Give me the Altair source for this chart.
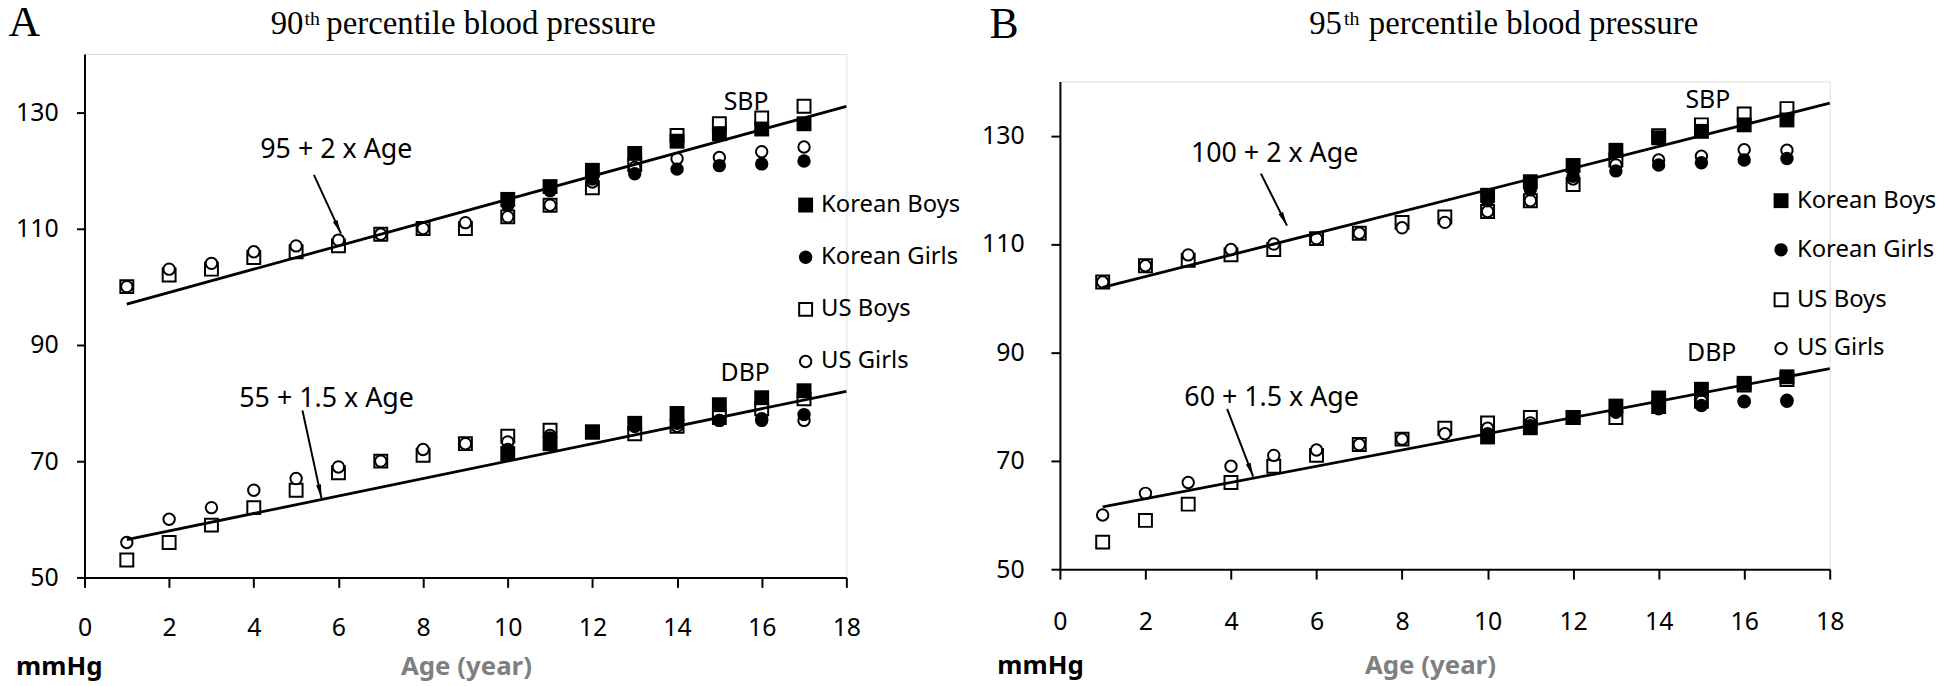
import math
import altair as alt
import pandas as pd

# ---------------- data ----------------
ages = list(range(1, 18))
korean_ages = list(range(10, 18))
x_ticks = list(range(0, 19, 2))
y_ticks = [50, 70, 90, 110, 130]
legend_labels = ["Korean Boys", "Korean Girls", "US Boys", "US Girls"]

# Panel A : 90th percentile
p90_us_boys_sbp = [100, 102, 103, 105, 106, 107, 109, 110, 110, 112, 114, 117, 121, 126, 128, 129, 131]
p90_us_girls_sbp = [100, 103, 104, 106, 107, 108, 109, 110, 111, 112, 114, 118, 120.5, 122, 122.2, 123.2, 124]
p90_kr_boys_sbp = [115, 117.2, 120, 122.9, 125, 126.3, 127.1, 128]
p90_kr_girls_sbp = [114, 116.5, 118.5, 119.4, 120.2, 120.8, 121.1, 121.6]
p90_us_boys_dbp = [53, 56, 59, 62, 65, 68, 70, 71, 73, 74.3, 75.3, 75, 74.7, 76, 77.5, 79, 80.7]
p90_us_girls_dbp = [56, 60, 62, 65, 67, 69, 70, 72, 73, 73.3, 74.4, 75, 76, 76, 77, 77, 77]
p90_kr_boys_dbp = [71.3, 73, 75, 76.5, 78.2, 79.7, 80.9, 82.1]
p90_kr_girls_dbp = [72, 74, 75, 76, 76.5, 77, 77.3, 78]

# Panel B : 95th percentile
p95_us_boys_sbp = [103, 106, 107, 108, 109, 111, 112, 114, 115, 116, 118, 121, 125.5, 130, 132, 134, 135]
p95_us_girls_sbp = [103, 106, 108, 109, 110, 111, 112, 113, 114, 116, 118, 122, 124.6, 125.5, 126.2, 127.4, 127.3]
p95_kr_boys_sbp = [119, 121.5, 124.5, 127.3, 129.6, 130.8, 132, 132.9]
p95_kr_girls_sbp = [118, 120, 122.5, 123.5, 124.6, 125, 125.5, 125.8]
p95_us_boys_dbp = [55, 59, 62, 66, 69, 71, 73, 74, 76, 77, 78, 78, 78, 80, 81, 84, 85]
p95_us_girls_dbp = [60, 64, 66, 69, 71, 72, 73, 74, 75, 76, 77, 78, 79, 80, 81, 81, 81]
p95_kr_boys_dbp = [74.4, 76.1, 78, 80.1, 81.6, 83.2, 84.3, 85.5]
p95_kr_girls_dbp = [75, 76.5, 78, 79, 79.6, 80.2, 80.9, 81.2]

# reference lines (end points at age 1 and 18)
line_ages = [1, 18]
p90_sbp_line = [97, 131]
p90_dbp_line = [56.5, 82]
p95_sbp_line = [102, 136]
p95_dbp_line = [61.5, 87]

# annotation texts (age, value of baseline)
p90_formulas = ["95 + 2 x Age", "55 + 1.5 x Age"]
p90_formula_age = [5.95, 5.72]
p90_formula_bp = [122.1, 79.3]
p95_formulas = ["100 + 2 x Age", "60 + 1.5 x Age"]
p95_formula_age = [5.02, 4.95]
p95_formula_bp = [125.2, 80.1]

bp_labels = ["SBP", "DBP"]
p90_label_age = [15.63, 15.61]
p90_label_bp = [130.3, 83.8]
p95_label_age = [15.15, 15.24]
p95_label_bp = [135.1, 88.5]

# arrows: start -> tip
p90_arrow_x0 = [5.42, 5.15]
p90_arrow_y0 = [119.2, 78.7]
p90_arrow_x1 = [6.06, 5.6]
p90_arrow_y1 = [109.1, 63.6]
p95_arrow_x0 = [4.70, 3.91]
p95_arrow_y0 = [123.0, 79.6]
p95_arrow_x1 = [5.31, 4.52]
p95_arrow_y1 = [113.4, 67.1]

SANS = "Noto Sans"
SERIF = "Liberation Serif"
X_DOMAIN = [0, 18]
Y_DOMAIN = [50, 140]


def panel(letter, pct, cfg):
    W, H = cfg["W"], cfg["H"]
    xs = alt.Scale(domain=X_DOMAIN, nice=False, zero=False)
    ys = alt.Scale(domain=Y_DOMAIN, nice=False, zero=False)
    xaxis = alt.Axis(values=x_ticks, title=None, grid=False, tickSize=10, tickWidth=2,
                     domainWidth=2, domainColor="black", tickColor="black",
                     labelFont=SANS, labelFontSize=25, labelColor="black",
                     labelPadding=cfg["xpad"], labelFlush=False, labelOverlap=False)
    yaxis = alt.Axis(values=y_ticks, title=None, grid=False, tickSize=cfg["ytick"], tickWidth=2,
                     domainWidth=2, domainColor="black", tickColor="black",
                     labelFont=SANS, labelFontSize=25, labelColor="black",
                     labelPadding=cfg["ypad"], labelOverlap=False)

    def X(f="age"):
        return alt.X(f"{f}:Q", scale=xs, axis=xaxis)

    def Y(f="bp"):
        return alt.Y(f"{f}:Q", scale=ys, axis=yaxis)

    def pts(a, v):
        return pd.DataFrame({"age": a, "bp": v})

    us_b = pd.concat([pts(ages, cfg["usb_s"]), pts(ages, cfg["usb_d"])])
    us_g = pd.concat([pts(ages, cfg["usg_s"]), pts(ages, cfg["usg_d"])])
    kr_b = pd.concat([pts(korean_ages, cfg["krb_s"]), pts(korean_ages, cfg["krb_d"])])
    kr_g = pd.concat([pts(korean_ages, cfg["krg_s"]), pts(korean_ages, cfg["krg_d"])])

    layers = []
    layers.append(alt.Chart(us_b).mark_point(shape="square", filled=True, fill="white", stroke="black",
                                             strokeWidth=2, size=169, opacity=1).encode(x=X(), y=Y()))
    layers.append(alt.Chart(us_g).mark_point(shape="circle", filled=True, fill="white", stroke="black",
                                             strokeWidth=2, size=132, opacity=1).encode(x=X(), y=Y()))
    layers.append(alt.Chart(kr_b).mark_point(shape="square", filled=True, color="black",
                                             size=225, opacity=1).encode(x=X(), y=Y()))
    layers.append(alt.Chart(kr_g).mark_point(shape="circle", filled=True, color="black",
                                             size=182, opacity=1).encode(x=X(), y=Y()))

    lines = pd.DataFrame({
        "age": line_ages + line_ages,
        "bp": cfg["sbp_line"] + cfg["dbp_line"],
        "part": ["SBP", "SBP", "DBP", "DBP"],
    })
    layers.append(alt.Chart(lines).mark_line(color="black", strokeWidth=2.8).encode(
        x=X(), y=Y(), detail="part:N"))

    formulas = pd.DataFrame({"age": cfg["f_age"], "bp": cfg["f_bp"], "t": cfg["f_text"]})
    layers.append(alt.Chart(formulas).mark_text(font=SANS, fontSize=27, align="center",
                                                baseline="alphabetic", color="black").encode(
        x=X(), y=Y(), text="t:N"))
    labels = pd.DataFrame({"age": cfg["l_age"], "bp": cfg["l_bp"], "t": bp_labels})
    layers.append(alt.Chart(labels).mark_text(font=SANS, fontSize=25, align="center",
                                              baseline="alphabetic", color="black").encode(
        x=X(), y=Y(), text="t:N"))

    # arrows
    pxx, pxy = W / (X_DOMAIN[1] - X_DOMAIN[0]), H / (Y_DOMAIN[1] - Y_DOMAIN[0])
    ang = []
    for x0, y0, x1, y1 in zip(cfg["ax0"], cfg["ay0"], cfg["ax1"], cfg["ay1"]):
        dx = (x1 - x0) * pxx
        dy = -(y1 - y0) * pxy
        ang.append(math.degrees(math.atan2(dx, -dy)) % 360)
    arrows = pd.DataFrame({"age": cfg["ax0"], "bp": cfg["ay0"], "age2": cfg["ax1"],
                           "bp2": cfg["ay1"], "ang": ang})
    layers.append(alt.Chart(arrows).mark_rule(color="black", strokeWidth=2).encode(
        x=X(), y=Y(), x2="age2:Q", y2="bp2:Q"))
    layers.append(alt.Chart(arrows).mark_point(shape="M0,0L-0.36,2L0.36,2Z", filled=True,
                                               color="black", size=196, opacity=1).encode(
        x=X("age2"), y=Y("bp2"), angle=alt.Angle("ang:Q", scale=None)))

    one = pd.DataFrame({"k": [0]})

    def txt(text, x, y, size, font=SANS, weight="normal", color="black", align="left"):
        return alt.Chart(one).mark_text(text=text, font=font, fontSize=size, fontWeight=weight,
                                        color=color, align=align, baseline="alphabetic").encode(
            x=alt.value(x), y=alt.value(y))

    # legend
    shapes = [("square", True, 225), ("circle", True, 182), ("square", False, 169), ("circle", False, 132)]
    for lab, ly, (shp, filled, sz) in zip(legend_labels, cfg["leg_y"], shapes):
        if filled:
            m = alt.Chart(one).mark_point(shape=shp, filled=True, color="black", size=sz, opacity=1)
        else:
            m = alt.Chart(one).mark_point(shape=shp, filled=True, fill="white", stroke="black",
                                          strokeWidth=2, size=sz, opacity=1)
        layers.append(m.encode(x=alt.value(cfg["leg_mx"]), y=alt.value(ly)))
        layers.append(alt.Chart(one).mark_text(text=lab, font=SANS, fontSize=24, align="left",
                                               baseline="middle", color="black").encode(
            x=alt.value(cfg["leg_tx"]), y=alt.value(ly)))

    # panel letter, title, footer
    layers.append(txt(letter, cfg["letter_x"], cfg["letter_y"], 44, font=SERIF))
    layers.append(txt(pct, cfg["t_x"][0], cfg["t_y"], 33, font=SERIF))
    layers.append(txt("th", cfg["t_x"][1], cfg["t_y"] - 9, 20, font=SERIF))
    layers.append(txt("percentile blood pressure", cfg["t_x"][2], cfg["t_y"], 33, font=SERIF))
    layers.append(txt("mmHg", cfg["mm_x"], cfg["foot_y"], 26, weight="bold"))
    layers.append(txt("Age (year)", cfg["age_x"], cfg["foot_y"], 26, weight="bold",
                      color="#7f7f7f", align="center"))

    return alt.layer(*layers).properties(width=W, height=H)


cfgA = dict(W=767, H=527, xpad=28, ypad=18.5, ytick=8,
            usb_s=p90_us_boys_sbp, usb_d=p90_us_boys_dbp, usg_s=p90_us_girls_sbp, usg_d=p90_us_girls_dbp,
            krb_s=p90_kr_boys_sbp, krb_d=p90_kr_boys_dbp, krg_s=p90_kr_girls_sbp, krg_d=p90_kr_girls_dbp,
            sbp_line=p90_sbp_line, dbp_line=p90_dbp_line,
            f_age=p90_formula_age, f_bp=p90_formula_bp, f_text=p90_formulas,
            l_age=p90_label_age, l_bp=p90_label_bp,
            ax0=p90_arrow_x0, ay0=p90_arrow_y0, ax1=p90_arrow_x1, ay1=p90_arrow_y1,
            leg_y=[152.1, 204.6, 257.1, 309.6], leg_mx=726, leg_tx=741.5,
            letter_x=-76.5, letter_y=-18.3, t_x=[187.5, 221.5, 243.5], t_y=-20,
            mm_x=-68.9, age_x=384.5, foot_y=625.7)

cfgB = dict(W=775, H=491, xpad=31, ypad=27, ytick=9,
            usb_s=p95_us_boys_sbp, usb_d=p95_us_boys_dbp, usg_s=p95_us_girls_sbp, usg_d=p95_us_girls_dbp,
            krb_s=p95_kr_boys_sbp, krb_d=p95_kr_boys_dbp, krg_s=p95_kr_girls_sbp, krg_d=p95_kr_girls_dbp,
            sbp_line=p95_sbp_line, dbp_line=p95_dbp_line,
            f_age=p95_formula_age, f_bp=p95_formula_bp, f_text=p95_formulas,
            l_age=p95_label_age, l_bp=p95_label_bp,
            ax0=p95_arrow_x0, ay0=p95_arrow_y0, ax1=p95_arrow_x1, ay1=p95_arrow_y1,
            leg_y=[120, 169.5, 219.8, 268.8], leg_mx=726, leg_tx=742,
            letter_x=-71, letter_y=-44, t_x=[251, 286, 311], t_y=-47.7,
            mm_x=-63, age_x=373, foot_y=597)

panelA = panel("A", "90", cfgA)
panelB = panel("B", "95", cfgB)

spacer = alt.Chart(pd.DataFrame({"k": [0]})).mark_text(text=" ", opacity=0).encode(
    x=alt.value(0), y=alt.value(0)).properties(
    width=775, height=1,
    view=alt.ViewBackground(stroke="white", strokeOpacity=0, strokeWidth=0, fill="white", fillOpacity=0))

right = alt.vconcat(spacer, panelB, spacing=26.7, bounds="flush")
chart = alt.hconcat(panelA, right, spacing=215, bounds="flush").properties(
    padding={"left": 0, "top": -10, "right": 0, "bottom": 0}
).configure_view(strokeWidth=0, stroke="transparent").configure(background="white")

chart.save("out.html", embed_options={"renderer": "svg", "actions": False})
